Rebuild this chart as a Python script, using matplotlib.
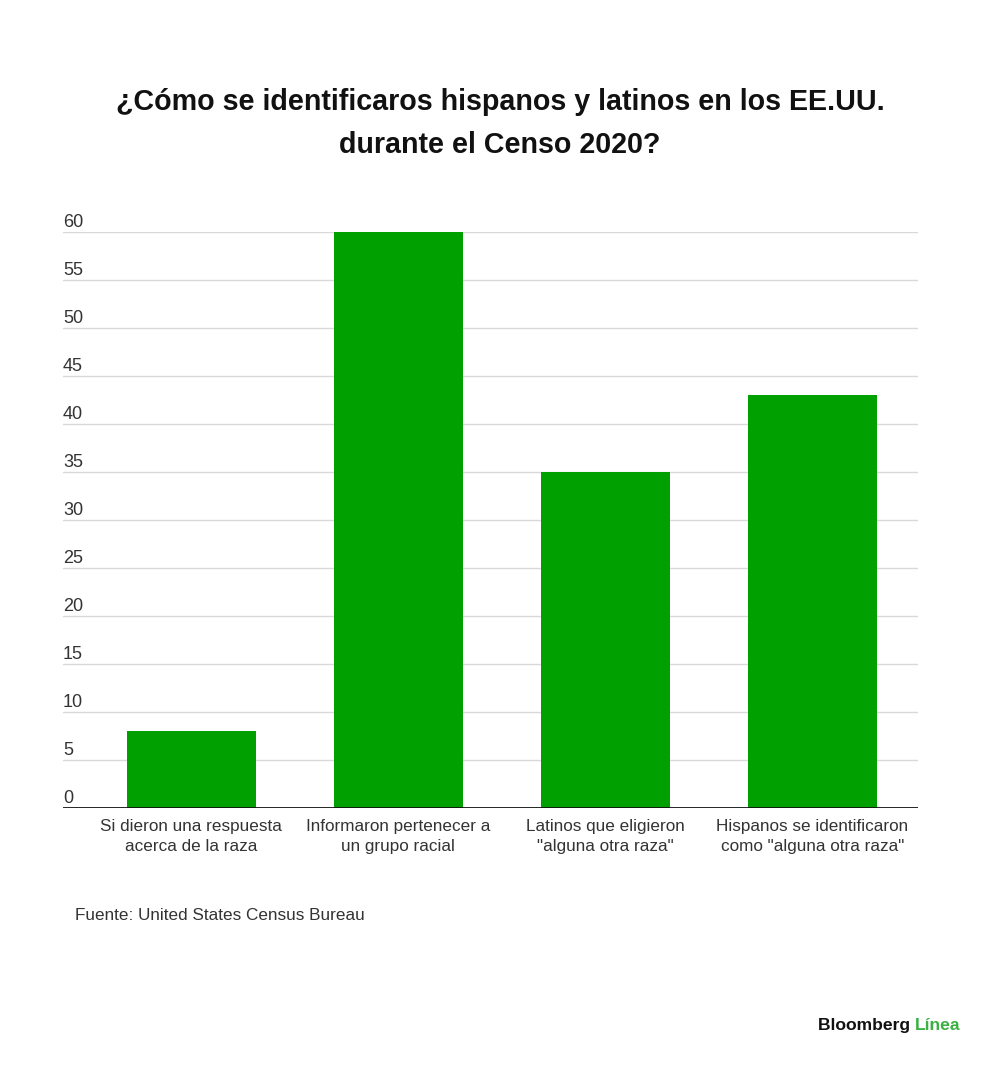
import matplotlib
matplotlib.use("Agg")
import matplotlib.pyplot as plt
import matplotlib.transforms as mtransforms

plt.rcParams['font.family'] = ['Liberation Sans', 'DejaVu Sans']

# datos
categorias = ['Si dieron una respuesta\nacerca de la raza',
              'Informaron pertenecer a\nun grupo racial',
              'Latinos que eligieron\n"alguna otra raza"',
              'Hispanos se identificaron\ncomo "alguna otra raza"']
valores = [8, 60, 35, 43]
ticks_y = list(range(0, 61, 5))

verde = '#00a000'

fig = plt.figure(figsize=(10, 10.68), dpi=100)
ax = fig.add_axes([0.063, 0.2434, 0.855, 0.5394])

x = list(range(len(categorias)))
ax.bar(x, valores, width=0.623, color=verde, zorder=2)
ax.set_xlim(-0.62, 3.51)
ax.set_ylim(0, 60)

# rejilla
for t in ticks_y[1:]:
    ax.axhline(t, color='#d9d9d9', lw=1, zorder=1)
ax.axhline(0, color='#111111', lw=2, zorder=3)

# etiquetas eje y por encima de la línea
trans = mtransforms.blended_transform_factory(ax.transAxes, ax.transData)
for t in ticks_y:
    ax.text(0.0, t + 0.5, str(t), transform=trans, ha='left', va='baseline',
            fontsize=13, color='#333333')

for s in ax.spines.values():
    s.set_visible(False)
ax.set_yticks([])
ax.set_xticks(x)
ax.set_xticklabels(categorias, fontsize=12.3, color='#333333', linespacing=1.4)
ax.tick_params(axis='x', length=0, pad=8)

fig.text(0.5, 0.9045, '¿Cómo se identificaros hispanos y latinos en los EE.UU.',
         ha='center', va='center', fontsize=20.6, fontweight='bold', color='#111111')
fig.text(0.5, 0.8645, 'durante el Censo 2020?',
         ha='center', va='center', fontsize=20.6, fontweight='bold', color='#111111')

fig.text(0.075, 0.143, 'Fuente: United States Census Bureau', ha='left', va='center',
         fontsize=12.3, color='#333333')

t1 = fig.text(0.818, 0.04, 'Bloomberg ', ha='left', va='center', fontsize=12.6,
              fontweight='bold', color='#111111')
fig.canvas.draw()
bb = t1.get_window_extent()
fig.text(bb.x1 / fig.bbox.width, 0.04, 'Línea', ha='left', va='center', fontsize=12.6,
         fontweight='bold', color='#3cb043')

fig.savefig('out.png', dpi=100, facecolor='white')
